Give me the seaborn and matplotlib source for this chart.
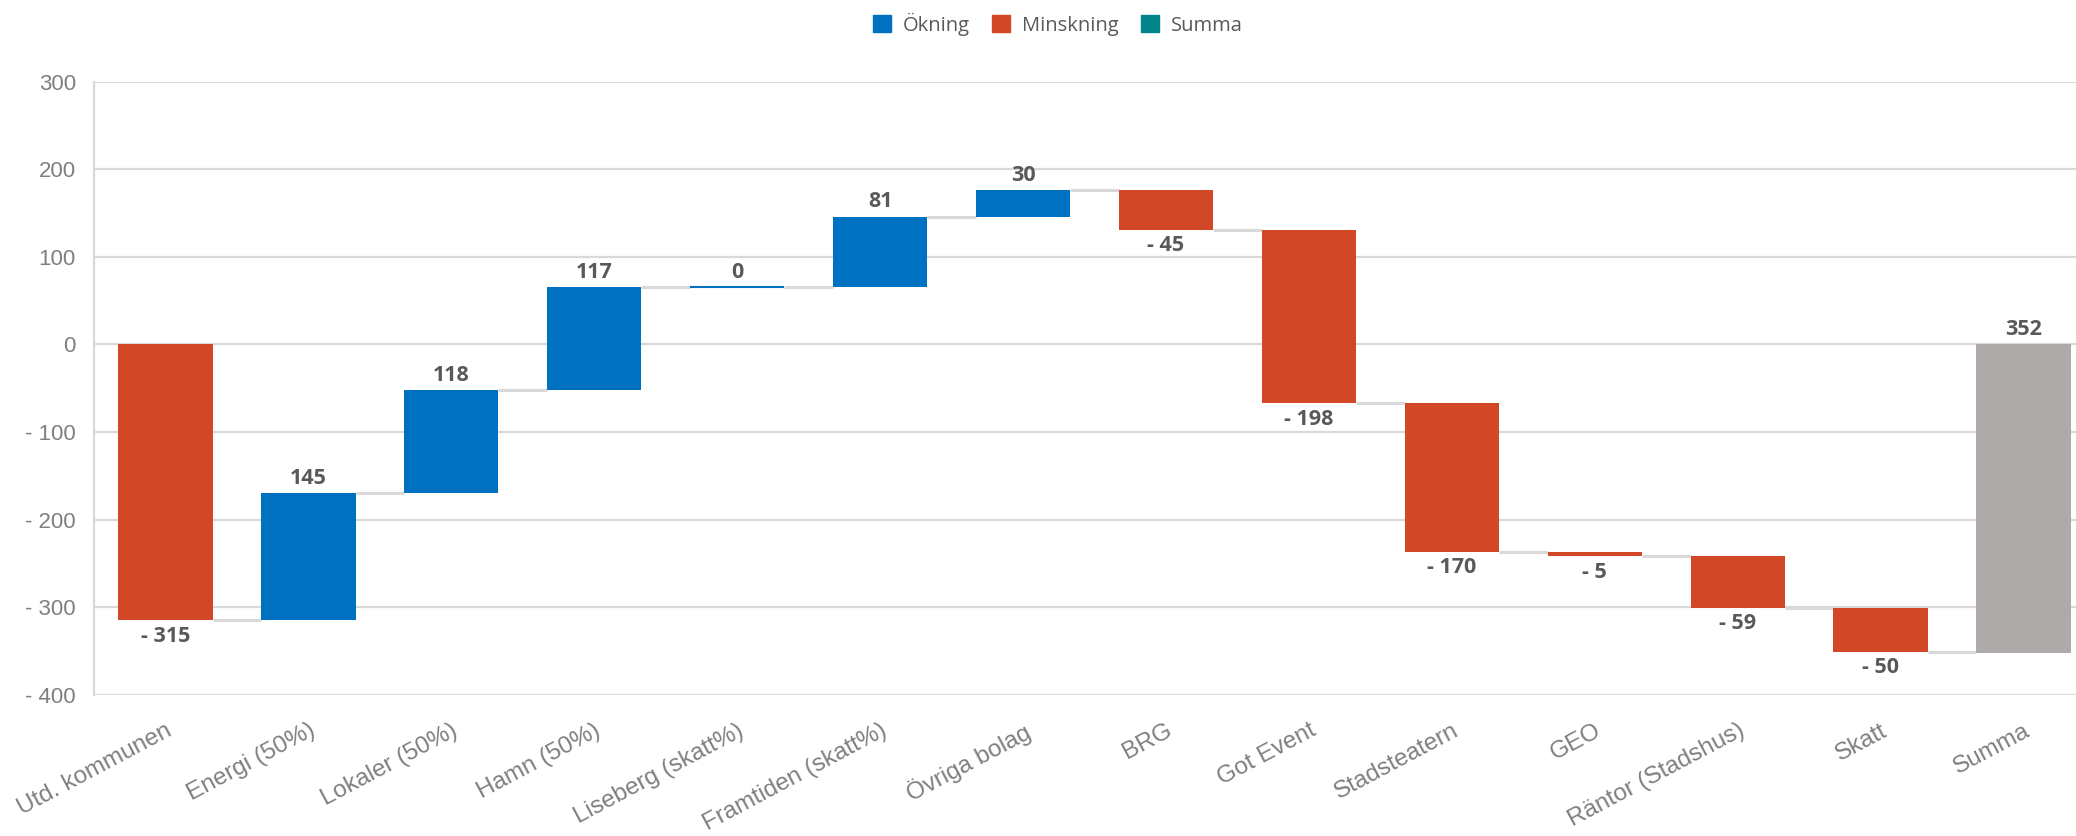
import numpy as np
import pandas as pd
import matplotlib.pyplot as plt
from matplotlib.patches import Patch
from matplotlib.ticker import FuncFormatter
import seaborn as sns

CATEGORIES = ['Utd. kommunen', 'Energi (50%)', 'Lokaler (50%)', 'Hamn (50%)', 'Liseberg (skatt%)',
              'Framtiden (skatt%)', 'Övriga bolag', 'BRG', 'Got Event', 'Stadsteatern', 'GEO',
              'Räntor (Stadshus)', 'Skatt']
CHANGES = [-315, 145, 118, 117, 0, 81, 30, -45, -198, -170, -5, -59, -50]
SUM_LABEL = 'Summa'
SUM_VALUE = -352

LEGEND_NAMES = ['Ökning', 'Minskning', 'Summa']
BLUE = '#0070C0'
RED = '#D24726'
TEAL = '#00868B'
GREY = '#AEAAAA'

sns.set_theme(style='white')
plt.rcParams['font.family'] = ['Liberation Sans', 'DejaVu Sans']

# waterfall geometry from the changes
ends = np.cumsum(CHANGES)
starts = np.concatenate([[0], ends[:-1]])
labels = CATEGORIES + [SUM_LABEL]
bottoms = list(starts) + [0]
heights = list(CHANGES) + [SUM_VALUE]
colors = [BLUE if c >= 0 else RED for c in CHANGES] + [GREY]

df = pd.DataFrame({'cat': labels, 'height': heights})

fig = plt.figure(figsize=(20.76, 8.36), dpi=100)
ax = fig.add_axes([94 / 2076, 0.1691, 2001 / 2076, 0.7332])

bar_w = 0.66
sns.barplot(data=df, x='cat', y='height', order=labels, bottom=bottoms,
            width=bar_w, errorbar=None, ax=ax, color=BLUE, saturation=1)
for patch, c, h in zip(ax.patches, colors, heights):
    patch.set_facecolor(c)
    patch.set_edgecolor(c)
    # a zero change still shows as a thin line
    patch.set_linewidth(1.5 if h == 0 else 0)
    patch.set_zorder(2)

# connector lines
for i, lvl in enumerate(ends):
    ax.plot([i + bar_w / 2, i + 1 - bar_w / 2], [lvl, lvl], color='#D9D9D9',
            lw=2.2, zorder=1, solid_capstyle='butt')

# value labels
lab_font = dict(family=['Open Sans', 'DejaVu Sans'], weight='bold', size=15.5, color='#595959')
for i, c in enumerate(CHANGES):
    if c >= 0:
        ax.annotate(f'{c}', (i, max(starts[i], ends[i])), xytext=(0, 3),
                    textcoords='offset points', ha='center', va='bottom', **lab_font)
    else:
        ax.annotate(f'- {abs(c)}', (i, min(starts[i], ends[i])), xytext=(0, -4),
                    textcoords='offset points', ha='center', va='top', **lab_font)
ax.annotate(f'{abs(SUM_VALUE)}', (len(CHANGES), 0), xytext=(0, 3),
            textcoords='offset points', ha='center', va='bottom', **lab_font)

ax.set_ylim(-400, 300)
ax.set_xlim(-0.5, len(labels) - 0.5)
ax.set_yticks(np.arange(-400, 301, 100))
ax.yaxis.set_major_formatter(FuncFormatter(lambda v, p: f'- {abs(int(v))}' if v < 0 else f'{int(v)}'))
ax.grid(axis='y', color='#D9D9D9', lw=1.6)
ax.set_axisbelow(True)
ax.set_xlabel('')
ax.set_ylabel('')

for s in ['top', 'right', 'bottom']:
    ax.spines[s].set_visible(False)
ax.spines['left'].set_color('#D9D9D9')
ax.spines['left'].set_linewidth(1.6)

ax.tick_params(axis='y', length=0, pad=13, labelsize=16, labelcolor='#7F7F7F')
ax.tick_params(axis='x', length=0, pad=18, labelsize=17.5, labelcolor='#7F7F7F')
ax.set_xticks(range(len(labels)))
ax.set_xticklabels(labels, rotation=28, ha='right', rotation_mode='anchor')

handles = [Patch(facecolor=c, edgecolor=c) for c in [BLUE, RED, TEAL]]
fig.legend(handles, LEGEND_NAMES, loc='center', bbox_to_anchor=(1058 / 2076, 1 - 24 / 836),
           ncol=3, frameon=False, handlelength=0.9, handleheight=0.9, handletextpad=0.6,
           columnspacing=1.1, prop={'family': ['Open Sans', 'DejaVu Sans'], 'size': 14.5},
           labelcolor='#595959')

fig.savefig('out.png', dpi=100)
